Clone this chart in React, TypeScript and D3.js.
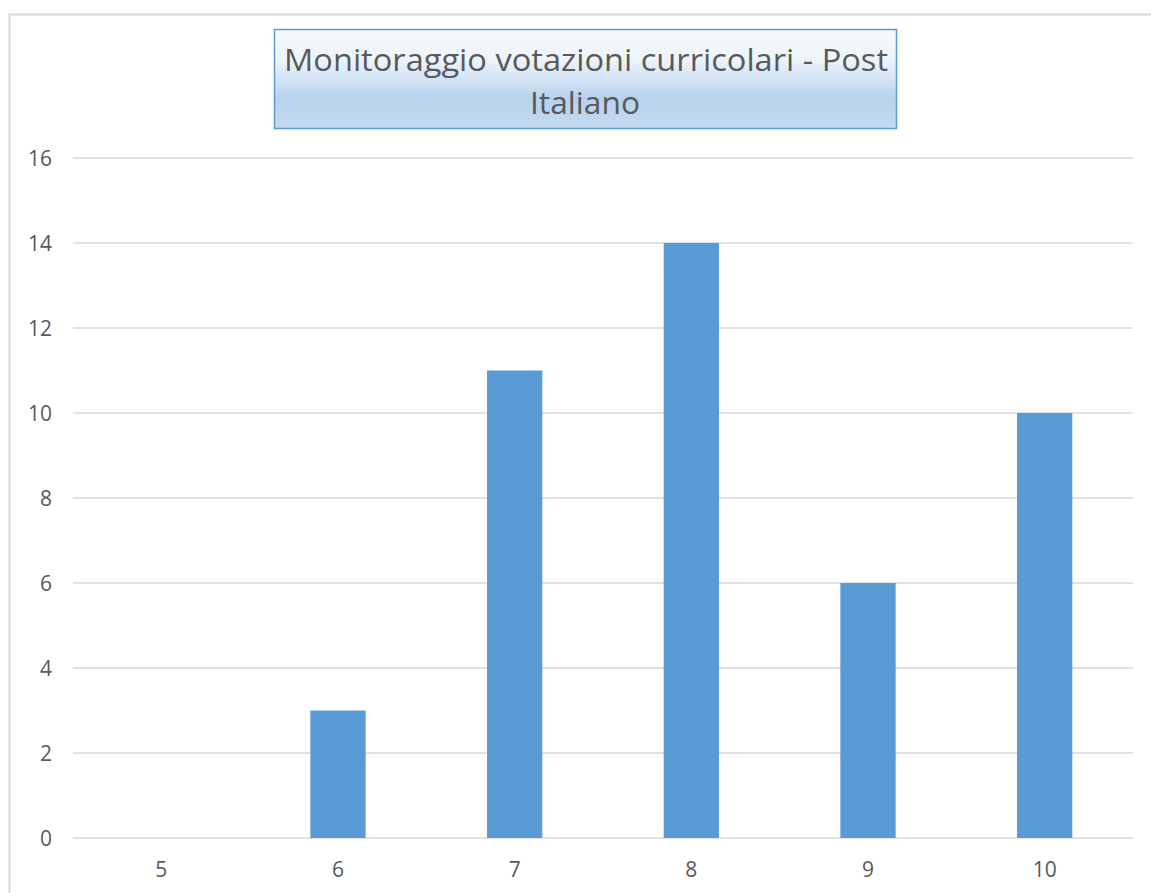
// Bar chart: Monitoraggio votazioni curricolari
import React from "react";
import * as d3 from "d3";

const voti = ["5", "6", "7", "8", "9", "10"];
const conteggi = [0, 3, 11, 14, 6, 10];
const yTicks = [0, 2, 4, 6, 8, 10, 12, 14, 16];
const titleLines = ["Monitoraggio votazioni curricolari - Post", "Italiano"];

const width = 1151;
const height = 893;
const margin = { left: 73, right: 18, top: 158, bottom: 55 };
const font = "'Open Sans', 'Noto Sans', sans-serif";

export default function App() {
  const x = d3
    .scaleBand()
    .domain(voti)
    .range([margin.left, width - margin.right])
    .paddingInner(0.687)
    .paddingOuter(0.3435);
  const bandX = d3.scaleBand().domain(voti).range([margin.left, width - margin.right]);
  const y = d3.scaleLinear().domain([0, 16]).range([height - margin.bottom, margin.top]);

  return (
    <svg
      width={width}
      height={height}
      style={{ position: "absolute", left: 0, top: 0, background: "#fff" }}
    >
      <defs>
        <linearGradient id="titleFill" x1="0" y1="0" x2="0" y2="1">
          <stop offset="0" stopColor="#f6f9fd" />
          <stop offset="0.3" stopColor="#eef4fb" />
          <stop offset="0.7" stopColor="#b7d2ed" />
          <stop offset="1" stopColor="#c5daf0" />
        </linearGradient>
      </defs>
      {/* outer chart border */}
      <rect x={9.5} y={14.5} width={width + 20} height={height + 20} fill="none" stroke="#d9d9d9" strokeWidth={2} />

      {/* gridlines */}
      {yTicks.map((t) => (
        <line
          key={t}
          x1={margin.left}
          x2={width - margin.right}
          y1={y(t)}
          y2={y(t)}
          stroke="#d9d9d9"
          strokeWidth={1.5}
        />
      ))}

      {/* y tick labels */}
      {yTicks.map((t) => (
        <text
          key={"l" + t}
          x={52}
          y={y(t) + 8}
          textAnchor="end"
          fontFamily={font}
          fontSize={21}
          fill="#595959"
        >
          {t}
        </text>
      ))}

      {/* bars */}
      {voti.map((v, i) => (
        <rect
          key={v}
          x={x(v)}
          y={y(conteggi[i])}
          width={x.bandwidth()}
          height={y(0) - y(conteggi[i])}
          fill="#5b9bd5"
        />
      ))}

      {/* x tick labels */}
      {voti.map((v) => (
        <text
          key={"x" + v}
          x={(bandX(v) ?? 0) + bandX.bandwidth() / 2}
          y={y(0) + 39}
          textAnchor="middle"
          fontFamily={font}
          fontSize={21}
          fill="#595959"
        >
          {v}
        </text>
      ))}

      {/* title box */}
      <rect x={274.5} y={29.5} width={622} height={99} fill="url(#titleFill)" stroke="#5b9bd5" strokeWidth={1.5} />
      <text
        x={586}
        y={71}
        textAnchor="middle"
        fontFamily={font}
        fontSize={31}
        fill="#595959"
        textLength={604}
        lengthAdjust="spacingAndGlyphs"
      >
        {titleLines[0]}
      </text>
      <text x={585} y={114} textAnchor="middle" fontFamily={font} fontSize={31} fill="#595959" textLength={110} lengthAdjust="spacingAndGlyphs">
        {titleLines[1]}
      </text>
    </svg>
  );
}
